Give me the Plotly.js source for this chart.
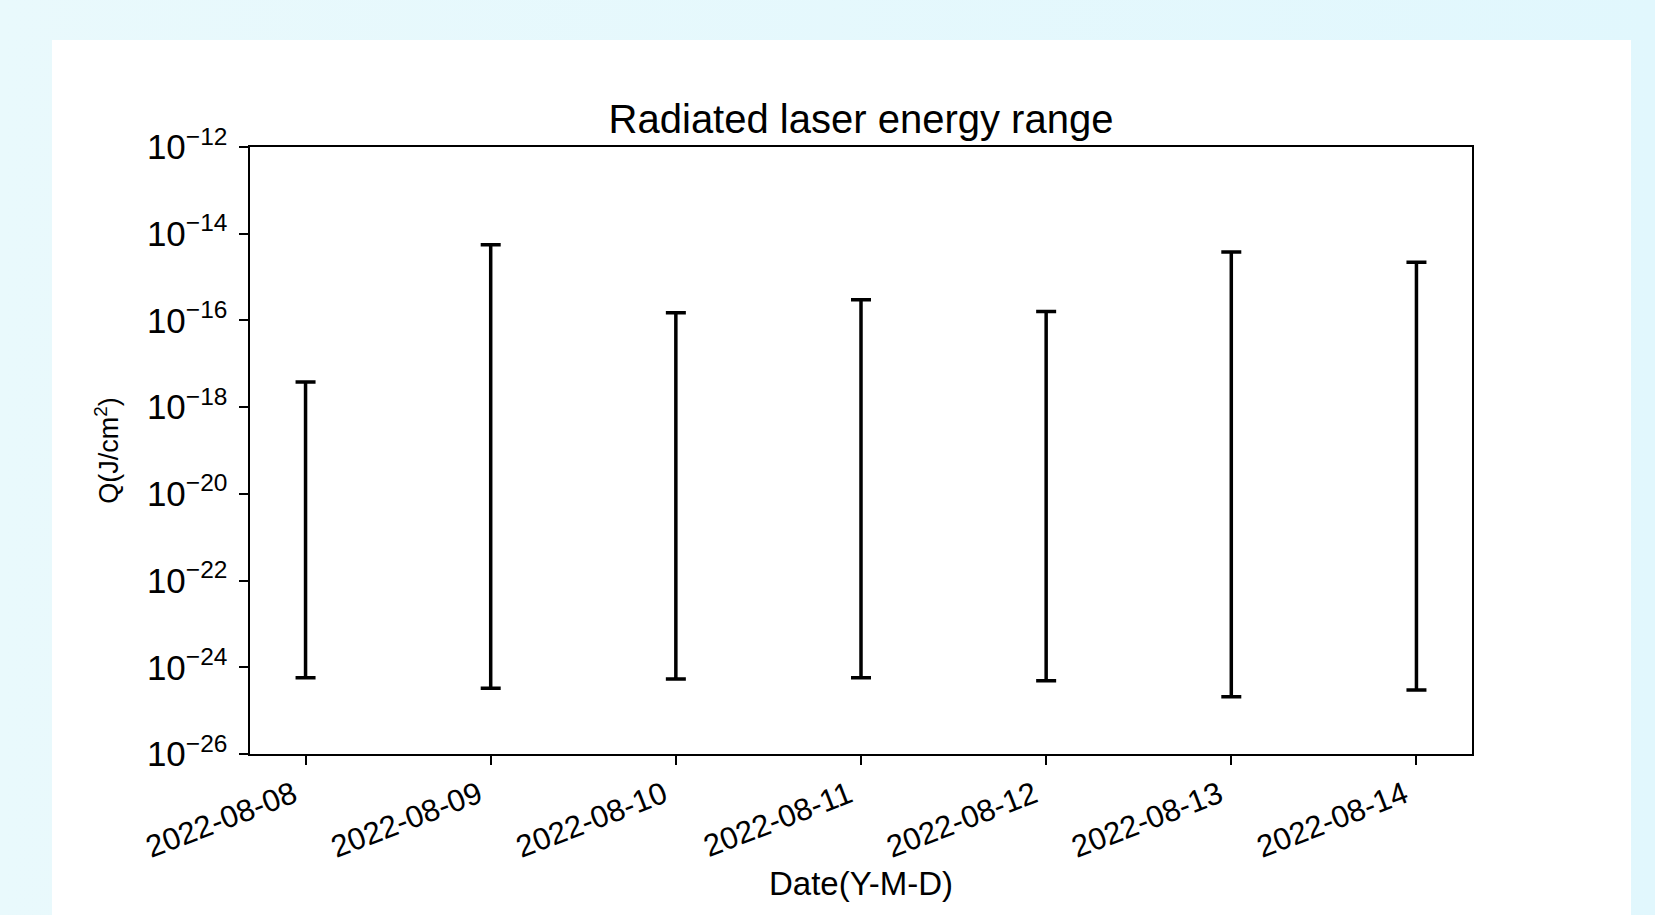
<!DOCTYPE html>
<html>
<head>
<meta charset="utf-8">
<script src="https://cdn.plot.ly/plotly-3.0.1.min.js"></script>
<style>
  html, body { margin: 0; padding: 0; }
  body { width: 1655px; height: 915px; overflow: hidden; background: linear-gradient(90deg, #e9f9fc 0%, #e1f7fd 100%); }
  #chart { width: 1655px; height: 915px; }
</style>
</head>
<body>
<div id="chart"></div>
<script>
// Data
const dates = ['2022-08-08', '2022-08-09', '2022-08-10', '2022-08-11', '2022-08-12', '2022-08-13', '2022-08-14'];
const qMax = [3.8e-18, 5.6e-15, 1.5e-16, 3.0e-16, 1.6e-16, 3.8e-15, 2.2e-15];
const qMin = [5.7e-25, 3.3e-25, 5.4e-25, 5.7e-25, 4.9e-25, 2.1e-25, 3.0e-25];
const chartTitle = 'Radiated laser energy range';
const xTitle = 'Date(Y-M-D)';
const yTitle = 'Q(J/cm<sup>2</sup>)';

const font = 'Liberation Sans, Arial, Helvetica, sans-serif';

const W = 1655, H = 915;
const M = { l: 250, r: 183, t: 147, b: 161 };
const pw = W - M.l - M.r, ph = H - M.t - M.b;
// white card behind the figure (page pixels converted to paper units)
const card = { left: 52, right: 1631, top: 40, bottom: 915 };

const trace = {
  type: 'scatter',
  mode: 'markers',
  x: dates,
  y: qMax,
  marker: { size: 1, opacity: 0, color: 'black' },
  hoverinfo: 'skip',
  showlegend: false,
  error_y: {
    type: 'data',
    symmetric: false,
    array: qMax.map(() => 0),
    arrayminus: qMax.map((v, i) => v - qMin[i]),
    color: '#000000',
    thickness: 3.5,
    width: 10
  }
};

const layout = {
  width: W,
  height: H,
  margin: { l: M.l, r: M.r, t: M.t, b: M.b, autoexpand: false },
  paper_bgcolor: 'rgba(0,0,0,0)',
  plot_bgcolor: '#ffffff',
  font: { family: font, color: '#000000' },
  shapes: [{
    type: 'rect', xref: 'paper', yref: 'paper', layer: 'below',
    x0: (card.left - M.l) / pw, x1: (card.right - M.l) / pw,
    y0: (H - M.b - card.bottom) / ph, y1: (H - M.b - card.top) / ph,
    fillcolor: '#ffffff', line: { width: 0 }
  }],
  title: {
    text: chartTitle,
    font: { family: font, size: 40, color: '#000000' },
    x: 0.5, xref: 'paper', xanchor: 'center',
    y: 1, yref: 'paper', yanchor: 'bottom',
    pad: { b: 14 }
  },
  xaxis: {
    type: 'date',
    range: ['2022-08-07 16:48', '2022-08-14 07:12'],
    tickmode: 'array',
    tickvals: dates,
    ticktext: dates,
    tickangle: -21,
    ticklabelshift: -12,
    tickfont: { family: font, size: 31, color: '#000000' },
    ticks: 'outside', ticklen: 9, tickwidth: 2, tickcolor: '#000000',
    showline: true, linecolor: '#000000', linewidth: 2, mirror: true,
    showgrid: false, zeroline: false,
    automargin: true,
    title: { text: xTitle, font: { family: font, size: 33, color: '#000000' }, standoff: 2 }
  },
  yaxis: {
    type: 'log',
    range: [-26, -12],
    dtick: 2,
    exponentformat: 'power',
    ticklabelstandoff: 6,
    tickfont: { family: font, size: 28, color: '#000000' },
    ticks: 'outside', ticklen: 9, tickwidth: 2, tickcolor: '#000000',
    showline: true, linecolor: '#000000', linewidth: 2, mirror: true,
    showgrid: false, zeroline: false,
    automargin: false,
    title: { text: yTitle, font: { family: font, size: 27, color: '#000000' }, standoff: 20 }
  }
};

Plotly.newPlot('chart', [trace], layout, { displayModeBar: false }).then(function (gd) {
  gd.querySelectorAll('svg text').forEach(function (t) {
    var fs = window.getComputedStyle(t).fontSize;
    if (fs) t.setAttribute('font-size', fs);
  });
});
</script>
</body>
</html>
